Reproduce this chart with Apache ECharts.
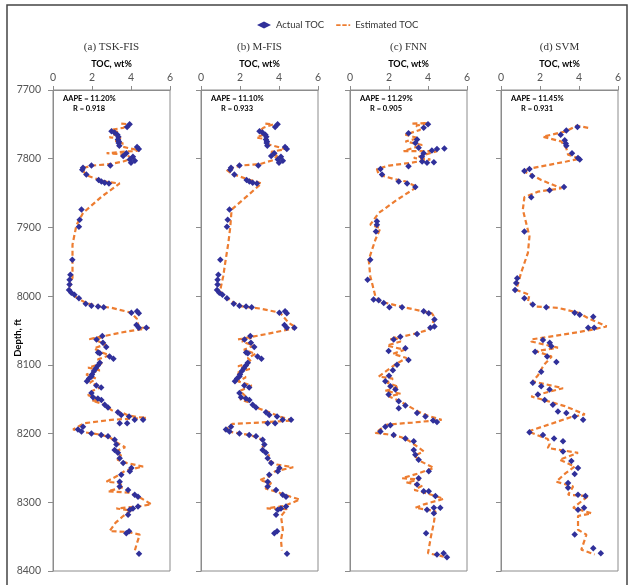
<!DOCTYPE html>
<html>
<head>
<meta charset="utf-8">
<script src="https://cdn.jsdelivr.net/npm/echarts@6/dist/echarts.min.js"></script>
<style>
  html, body { margin: 0; padding: 0; background: #fff; }
  #chart { width: 635px; height: 585px; }
</style>
</head>
<body>
<div id="chart"></div>
<script>
// [TOC wt%, depth ft]
const actualAB = [
  [3.93,7750],[3.80,7754],[3.0,7760],[3.15,7762],[3.3,7765],[3.35,7768],[3.33,7772],[3.38,7775],[3.37,7777],[3.4,7781],
  [4.31,7783],[4.4,7786],[3.76,7792],[3.6,7796],[4.1,7797],[3.94,7801],[4.2,7803],[4.0,7806],[2.94,7810],[1.97,7810],
  [1.54,7813],[1.5,7816],[1.71,7823],[2.34,7831],[2.48,7833],[2.65,7835],[2.87,7836],[1.46,7874],[1.37,7889],[1.33,7899],
  [0.99,7947],[0.89,7969],[0.85,7976],[0.85,7983],[0.82,7991],[0.94,7995],[1.1,7998],[1.33,8003],[1.68,8011],[1.97,8014],
  [2.31,8015],[2.6,8016],[4.02,8024],[4.31,8022],[4.4,8025],[4.28,8042],[4.4,8046],[4.79,8046],[2.53,8058],[2.23,8063],
  [2.56,8068],[2.73,8074],[2.31,8082],[2.4,8083],[2.9,8088],[3.1,8091],[2.4,8097],[2.3,8101],[2.2,8105],[2.1,8109],
  [2.0,8114],[1.97,8117],[1.85,8120],[1.74,8124],[2.22,8130],[2.47,8133],[1.97,8141],[2.05,8147],[2.3,8149],[2.48,8151],
  [2.65,8158],[2.82,8162],[3.33,8169],[3.5,8173],[3.9,8175],[4.19,8180],[4.62,8180],[3.42,8185],[3.8,8185],[1.54,8190],
  [1.28,8194],[1.46,8197],[1.97,8200],[2.47,8202],[2.82,8204],[3.16,8209],[3.25,8216],[3.16,8224],[3.33,8228],[3.42,8236],
  [3.6,8243],[4.02,8250],[3.94,8255],[3.5,8260],[3.42,8270],[3.42,8277],[3.85,8282],[4.19,8289],[4.36,8292],[4.36,8306],
  [4.1,8309],[3.94,8311],[3.85,8318],[3.9,8342],[3.76,8345],[4.41,8375]
];

const actualC = [
  [4.0,7750],[3.78,7755],[3.0,7763],[3.44,7772],[3.35,7777],[3.52,7784],[4.46,7786],[4.84,7785],[4.2,7788],[3.78,7792],
  [3.69,7797],[3.7,7804],[4.3,7805],[3.95,7806],[3.0,7811],[1.56,7815],[1.64,7823],[2.5,7833],[2.93,7836],[3.35,7841],
  [1.38,7891],[1.38,7896],[1.33,7906],[1.04,7947],[0.9,7976],[1.21,8005],[1.47,8006],[1.73,8010],[2.02,8016],[2.67,8016],
  [3.78,8022],[4.04,8025],[4.33,8034],[4.33,8044],[4.12,8046],[3.44,8055],[2.58,8059],[2.24,8063],[2.84,8076],[1.98,8080],
  [3.0,8093],[2.41,8100],[2.2,8108],[2.0,8116],[1.81,8124],[2.07,8131],[2.33,8136],[1.98,8143],[2.5,8153],[2.84,8159],
  [2.5,8163],[3.44,8170],[3.87,8175],[4.26,8181],[4.46,8183],[2.07,8188],[1.81,8190],[1.56,8197],[2.24,8202],[2.84,8207],
  [3.27,8211],[3.27,8224],[3.35,8231],[3.52,8238],[4.04,8255],[3.52,8265],[3.44,8274],[3.78,8284],[4.04,8284],[4.38,8291],
  [4.3,8308],[4.63,8308],[3.95,8311],[4.3,8316],[3.9,8345],[4.46,8376],[4.8,8374],[4.97,8380]
];

const actualD = [
  [3.92,7754],[3.35,7759],[3.06,7765],[3.27,7773],[3.32,7778],[3.35,7781],[3.64,7792],[3.95,7799],[4.04,7801],[1.46,7815],
  [1.2,7818],[1.6,7825],[3.23,7841],[2.49,7846],[1.55,7856],[1.2,7906],[0.83,7974],[0.78,7981],[0.72,7991],[1.2,8003],
  [1.63,8012],[2.32,8016],[3.78,8024],[4.04,8027],[4.73,8030],[4.47,8046],[4.78,8046],[2.15,8064],[2.5,8068],[2.58,8073],
  [1.75,8081],[2.37,8088],[2.84,8096],[2.06,8110],[1.63,8126],[2.06,8131],[2.49,8136],[1.89,8143],[2.24,8151],[2.66,8158],
  [2.92,8168],[3.35,8170],[3.78,8175],[4.21,8180],[1.46,8198],[2.15,8202],[2.72,8207],[3.18,8211],[3.18,8226],[3.61,8240],
  [3.95,8250],[3.78,8259],[3.44,8272],[3.44,8279],[3.95,8289],[4.33,8291],[4.26,8308],[3.95,8311],[3.78,8347],[4.73,8367],
  [5.12,8374]
];

const estA = [
  [3.5,7749],[4.0,7750],[3.6,7755],[3.0,7758],[3.4,7762],[3.1,7766],[2.9,7769],[3.5,7770],[3.2,7774],[3.6,7778],
  [3.3,7781],[4.45,7788],[2.75,7792],[3.8,7794],[4.0,7800],[3.6,7804],[2.9,7808],[2.0,7810],[1.5,7814],[1.6,7820],
  [1.7,7824],[2.3,7830],[2.8,7834],[3.42,7836],[2.5,7855],[1.54,7879],[1.2,7897],[1.0,7925],[1.0,7950],[1.0,7973],
  [0.8,7991],[1.2,8002],[1.7,8010],[2.4,8015],[3.0,8017],[4.0,8024],[4.3,8033],[4.4,8046],[4.96,8046],[3.5,8053],
  [1.8,8063],[2.6,8058],[2.2,8064],[2.7,8070],[2.1,8076],[2.5,8082],[2.9,8086],[2.3,8092],[2.5,8098],[1.8,8104],
  [2.4,8108],[1.7,8114],[2.2,8120],[1.9,8126],[2.5,8132],[2.0,8138],[1.8,8144],[2.4,8150],[2.0,8152],[2.7,8158],
  [3.0,8166],[3.6,8170],[3.8,8173],[4.3,8176],[4.79,8177],[3.0,8180],[1.6,8185],[1.03,8194],[1.6,8198],[2.3,8201],
  [2.9,8205],[3.2,8212],[3.7,8220],[3.2,8226],[3.5,8232],[3.3,8238],[3.8,8243],[4.62,8248],[3.7,8254],[3.4,8260],
  [2.74,8270],[3.4,8272],[3.6,8278],[2.82,8284],[3.9,8286],[4.4,8292],[5.05,8303],[4.4,8306],[3.25,8309],[4.0,8312],
  [3.6,8320],[3.2,8330],[2.9,8342],[3.8,8343],[4.45,8347],[4.3,8360],[4.19,8371]
];

const estB = [
  [3.3,7749],[3.7,7750],[3.2,7755],[3.0,7760],[3.3,7764],[2.85,7769],[3.4,7772],[3.3,7778],[4.35,7786],[3.6,7790],
  [3.9,7796],[3.7,7802],[3.0,7808],[2.0,7810],[1.3,7816],[1.6,7822],[2.4,7830],[2.9,7834],[3.1,7836],[2.3,7856],
  [1.57,7874],[1.5,7900],[1.4,7923],[1.25,7950],[1.14,7971],[0.97,7993],[1.57,8008],[2.1,8015],[3.0,8018],[4.05,8024],
  [4.5,8039],[4.9,8046],[3.4,8055],[1.9,8063],[2.6,8060],[2.1,8066],[2.7,8072],[2.2,8078],[2.8,8084],[2.4,8090],
  [2.6,8096],[1.9,8102],[2.5,8106],[1.8,8112],[2.3,8118],[1.9,8124],[2.6,8130],[2.0,8138],[2.3,8146],[2.0,8150],
  [2.6,8156],[3.0,8164],[3.6,8170],[4.0,8175],[4.73,8181],[3.0,8184],[1.6,8186],[1.23,8196],[1.8,8199],[2.5,8202],
  [3.0,8207],[3.3,8214],[3.1,8222],[3.5,8230],[3.4,8238],[3.9,8245],[4.73,8249],[3.8,8255],[3.5,8262],[3.0,8268],
  [3.6,8272],[3.3,8280],[4.0,8286],[4.6,8292],[5.07,8296],[4.3,8305],[3.37,8309],[4.4,8310],[4.1,8320],[4.2,8340],
  [4.1,8355],[4.15,8370]
];

const estC = [
  [3.2,7749],[4.0,7748],[3.4,7752],[3.6,7758],[2.84,7765],[3.5,7770],[2.84,7775],[3.7,7780],[2.75,7789],[4.46,7789],
  [3.27,7799],[4.12,7801],[3.1,7806],[2.0,7810],[1.38,7815],[1.47,7823],[2.3,7830],[2.84,7833],[3.44,7841],[2.4,7860],
  [1.47,7879],[1.04,7896],[1.56,7901],[1.3,7918],[0.96,7947],[1.04,7971],[1.3,8000],[1.56,8008],[2.75,8016],[4.2,8025],
  [4.37,8032],[4.03,8049],[3.27,8055],[2.07,8063],[2.3,8060],[2.6,8066],[1.9,8072],[2.8,8078],[2.2,8084],[2.9,8090],
  [2.4,8098],[1.47,8117],[2.2,8120],[1.9,8126],[2.5,8132],[1.8,8138],[2.6,8142],[2.0,8146],[2.5,8152],[3.0,8160],
  [3.5,8168],[4.0,8174],[4.7,8180],[3.2,8184],[1.9,8187],[1.3,8199],[1.9,8201],[2.6,8205],[3.0,8210],[3.4,8218],
  [3.78,8226],[3.3,8232],[3.6,8240],[4.3,8250],[3.5,8258],[2.67,8265],[3.6,8267],[2.9,8271],[3.7,8276],[3.3,8282],
  [3.95,8287],[4.8,8295],[3.8,8303],[3.35,8308],[4.38,8313],[4.3,8330],[4.15,8350],[4.0,8374],[4.8,8379]
];

const estD = [
  [4.47,7755],[3.87,7752],[3.35,7760],[2.15,7768],[3.1,7775],[3.35,7785],[3.44,7794],[4.04,7800],[3.35,7804],[1.55,7814],
  [1.12,7818],[1.55,7823],[2.06,7831],[3.1,7843],[1.89,7848],[1.2,7856],[1.12,7874],[1.46,7913],[1.38,7937],[1.03,7966],
  [0.78,7991],[1.46,7998],[1.38,8008],[1.72,8015],[2.92,8017],[3.95,8024],[4.47,8032],[5.42,8044],[4.64,8049],[3.61,8054],
  [1.55,8063],[1.55,8066],[2.92,8075],[1.8,8080],[2.6,8088],[2.2,8100],[1.9,8115],[1.63,8124],[3.18,8134],[1.55,8146],
  [2.3,8152],[3.27,8160],[4.3,8172],[3.6,8176],[1.38,8197],[2.4,8208],[2.5,8215],[2.4,8221],[3.95,8228],[3.0,8238],
  [3.78,8248],[3.3,8258],[2.83,8270],[3.7,8277],[3.44,8289],[4.47,8291],[3.7,8308],[4.64,8316],[3.95,8320],[3.95,8340],
  [4.38,8347],[4.12,8369],[4.8,8376]
];

const panelTitles = ['(a) TSK-FIS', '(b) M-FIS', '(c) FNN', '(d) SVM'];
const aapeValues = ['11.20%', '11.10%', '11.29%', '11.45%'];
const rValues = ['0.918', '0.933', '0.905', '0.931'];
const actualSets = [actualAB, actualAB, actualC, actualD];
const estSets = [estA, estB, estC, estD];

const panelLeft = [53, 201, 350, 501];
const panelW = 117, panelTop = 90, panelH = 481;
const blue = '#30309a', orange = '#ED7D31';
const labelFont = 'Lato, "Open Sans", sans-serif';

const chart = echarts.init(document.getElementById('chart'));

const grids = [], xAxes = [], yAxes = [], series = [], graphics = [];

panelLeft.forEach((left, i) => {
  grids.push({ left: left, top: panelTop, width: panelW, height: panelH, show: true, borderColor: '#8c8c8c', borderWidth: 1 });
  xAxes.push({
    gridIndex: i, type: 'value', position: 'top', min: 0, max: 6, interval: 2,
    axisLine: { show: true, lineStyle: { color: '#8c8c8c' } },
    axisTick: { show: true, length: 4, lineStyle: { color: '#8c8c8c' } },
    axisLabel: { fontFamily: labelFont, fontSize: 10.5, color: '#555', margin: 7 },
    splitLine: { show: false }
  });
  yAxes.push({
    gridIndex: i, type: 'value', inverse: true, min: 7700, max: 8400, interval: 100,
    axisLine: { show: true, lineStyle: { color: '#8c8c8c' } },
    axisTick: { show: true, length: 5, lineStyle: { color: '#8c8c8c' } },
    axisLabel: { show: i === 0, fontFamily: labelFont, fontSize: 10.5, color: '#555', margin: 12, formatter: v => String(v) },
    splitLine: { show: false }
  });
  series.push({
    name: 'Estimated TOC', type: 'line', xAxisIndex: i, yAxisIndex: i,
    data: estSets[i], symbol: 'none', showSymbol: false, smooth: false, z: 2,
    lineStyle: { color: orange, width: 2.2, type: [5, 3] },
    itemStyle: { color: orange }
  });
  series.push({
    name: 'Actual TOC', type: 'scatter', xAxisIndex: i, yAxisIndex: i,
    data: actualSets[i], symbol: 'diamond', symbolSize: 6.5, z: 3,
    itemStyle: { color: blue, opacity: 1 }
  });
  const cx = left + panelW / 2;
  graphics.push({
    type: 'text', x: cx, y: 47,
    style: { text: panelTitles[i], font: '11px "Liberation Serif", serif', fill: '#333', align: 'center', verticalAlign: 'middle' }
  });
  graphics.push({
    type: 'text', x: cx, y: 64,
    style: { text: 'TOC, wt%', font: 'bold 9px ' + labelFont, fill: '#000', align: 'center', verticalAlign: 'middle' }
  });
  graphics.push({
    type: 'text', x: left + 10, y: 99,
    style: { text: 'AAPE = ' + aapeValues[i], font: 'bold 7.5px ' + labelFont, fill: '#000', verticalAlign: 'middle' }
  });
  graphics.push({
    type: 'text', x: left + 20, y: 109,
    style: { text: 'R = ' + rValues[i], font: 'bold 7.5px ' + labelFont, fill: '#000', verticalAlign: 'middle' }
  });
});

graphics.push({
  type: 'text', x: 18, y: 338, rotation: Math.PI / 2,
  style: { text: 'Depth, ft', font: 'bold 9.5px ' + labelFont, fill: '#000', align: 'center', verticalAlign: 'middle' }
});

graphics.push({
  type: 'rect', shape: { x: 7, y: 5, width: 620, height: 600 },
  style: { fill: 'none', stroke: '#444', lineWidth: 1.5 }, silent: true
});

chart.setOption({
  backgroundColor: '#fff',
  animation: false,
  legend: {
    top: 15, left: 252, itemGap: 12, itemWidth: 14, itemHeight: 7,
    textStyle: { fontFamily: labelFont, fontSize: 9.5, color: '#333' },
    data: [
      { name: 'Actual TOC', icon: 'diamond' },
      { name: 'Estimated TOC', icon: 'path://M0,0h5v2h-5z M7,0h5v2h-5z M14,0h2v2h-2z' }
    ]
  },
  grid: grids,
  xAxis: xAxes,
  yAxis: yAxes,
  series: series,
  graphic: graphics
});
</script>
</body>
</html>
